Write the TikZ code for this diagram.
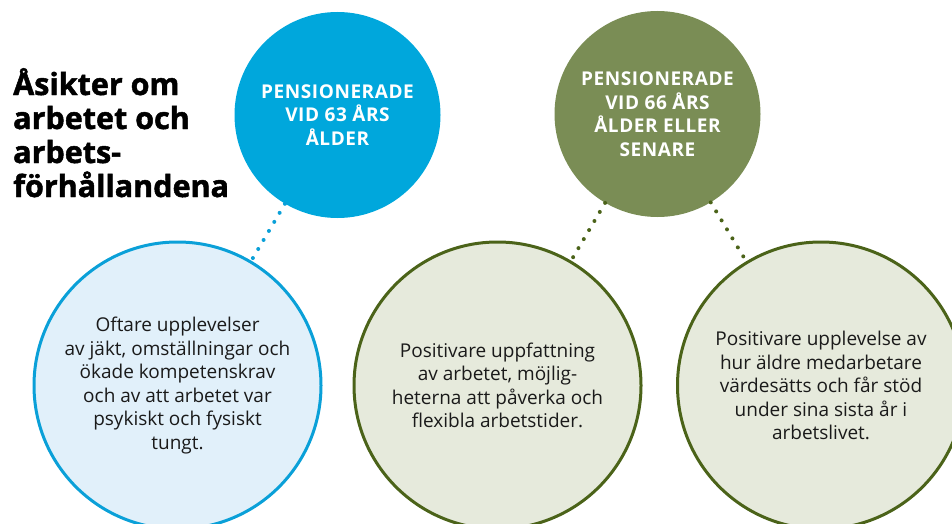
\documentclass[tikz,border=0pt]{standalone}
\usepackage{fontspec}
\setmainfont{Open Sans}
\newfontfamily\titlefont{Open Sans}[BoldFeatures={FakeBold=1.6}]
\newfontfamily\headfont{Open Sans}[BoldFeatures={LetterSpace=3}]
\definecolor{topblue}{HTML}{00A7DC}
\definecolor{lightblue}{HTML}{E1F0FA}
\definecolor{blueline}{HTML}{0AA0D8}
\definecolor{topgreen}{HTML}{7A8D55}
\definecolor{lightgreen}{HTML}{E6EADC}
\definecolor{greenline}{HTML}{4B6319}
\definecolor{textcol}{HTML}{1A1A1A}
\tikzset{
  topcirc/.style={circle, minimum size=206pt, inner sep=0pt, align=center, text=white,
    font=\headfont\fontsize{19}{23.5}\selectfont\bfseries},
  lowcirc/.style={circle, minimum size=287pt, inner sep=0pt, align=center, line width=3pt, text=textcol,
    font=\fontsize{19}{23.5}\selectfont},
  dotline/.style={line width=4pt, line cap=round, dash pattern=on 0pt off 10.5pt},
}
\begin{document}
\begin{tikzpicture}[x=1pt,y=-1pt]
\useasboundingbox (0,0) rectangle (952,524);
\begin{scope}
\clip (0,0) rectangle (952,524);
\node[topcirc, fill=topblue] (b63) at (337.5,115) {PENSIONERADE\\VID 63 ÅRS\\ÅLDER};
\node[topcirc, fill=topgreen] (g66) at (657.5,114) {PENSIONERADE\\VID 66 ÅRS\\ÅLDER ELLER\\SENARE};
\node[lowcirc, fill=lightblue, draw=blueline] (l1) at (177.5,385.5) {Oftare upplevelser\\av jäkt, omställningar och\\ökade kompetenskrav\\och av att arbetet var\\psykiskt och fysiskt\\tungt.};
\node[lowcirc, fill=lightgreen, draw=greenline] (l2) at (497.5,385.5) {Positivare uppfattning\\av arbetet, möjlig-\\heterna att påverka och\\flexibla arbetstider.};
\node[lowcirc, fill=lightgreen, draw=greenline] (l3) at (821,385.5) {Positivare upplevelse av\\hur äldre medarbetare\\värdesätts och får stöd\\under sina sista år i\\arbetslivet.};
\draw[dotline, draw=blueline] (b63) -- (l1);
\draw[dotline, draw=greenline] (g66) -- (l2);
\draw[dotline, draw=greenline] (g66) -- (l3);
\end{scope}
\node[anchor=base west, align=left, inner sep=0pt, font=\titlefont\fontsize{30.5}{34}\selectfont\bfseries] (title) at (13,197) {Åsikter om\\arbetet och\\arbets-\\förhållandena};
\end{tikzpicture}
\end{document}
